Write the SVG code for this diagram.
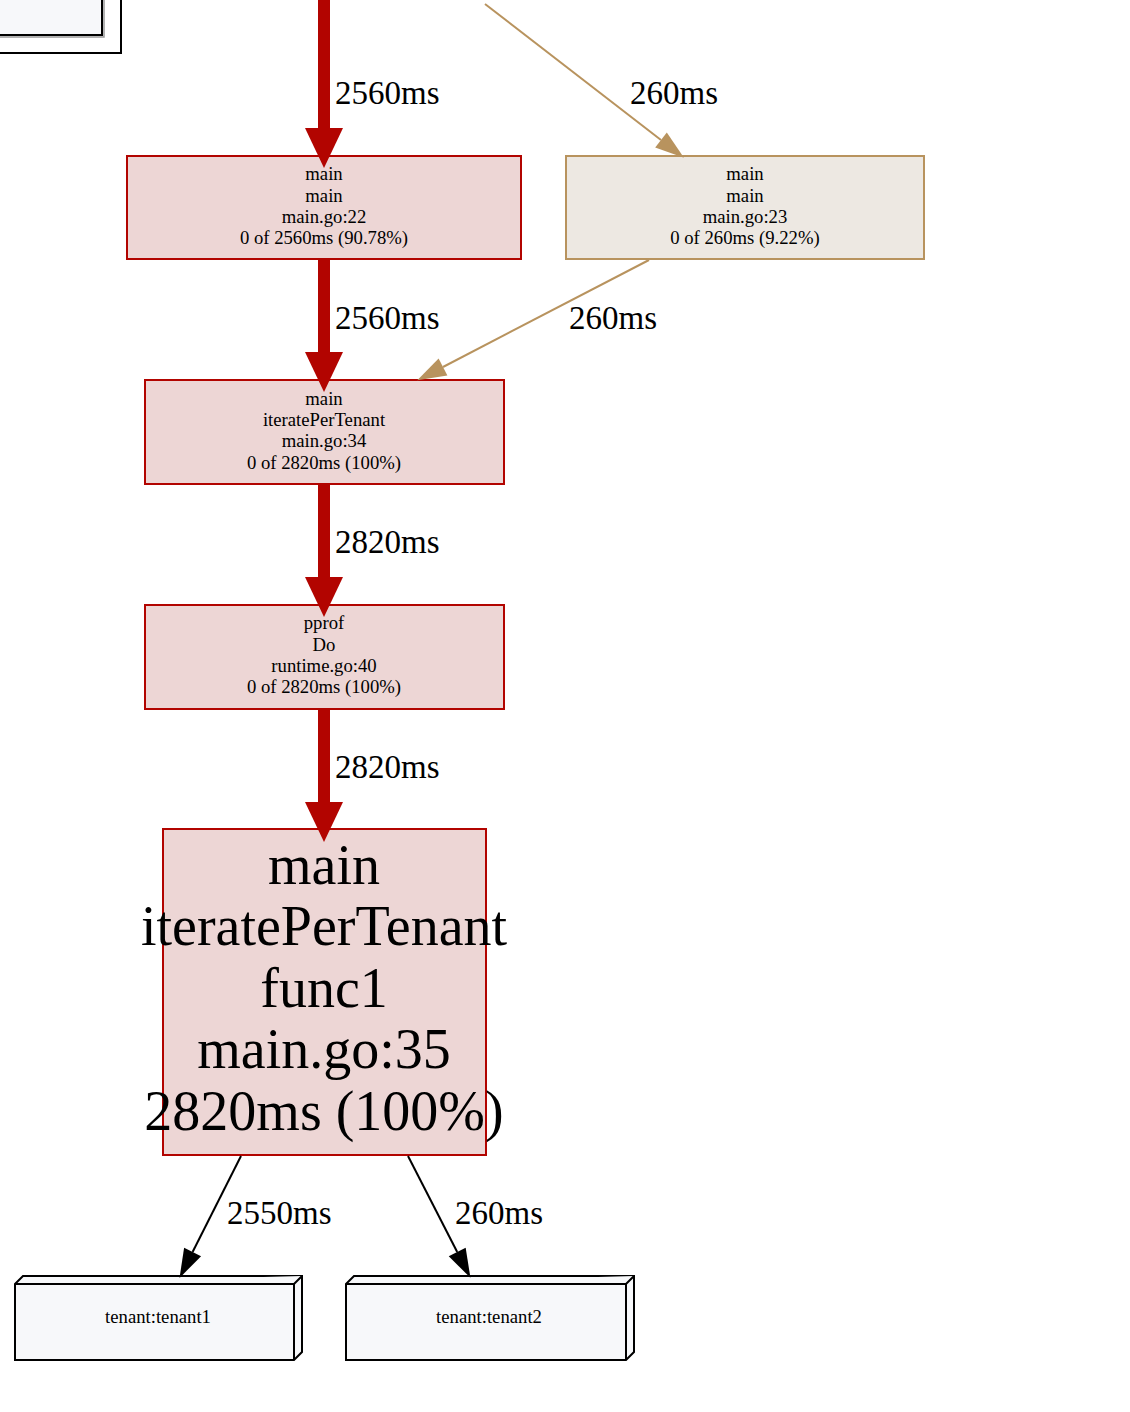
<svg xmlns="http://www.w3.org/2000/svg" width="1130" height="1412" viewBox="0 0 1130 1412">
<style>
text{font-family:"Liberation Serif","Times New Roman",serif;fill:#000;text-anchor:middle}
.s{font-size:18.7px}
.lbl{font-size:33px;text-anchor:start}
.big{font-size:56px}
.hot rect{fill:#edd6d5;stroke:#b20400;stroke-width:2}
.warm rect{fill:#ede8e2;stroke:#b8935e;stroke-width:2}
.b3d path{fill:#f7f8fa;stroke:#000;stroke-width:2;stroke-linejoin:miter}
.er{stroke:#b20400;stroke-width:12;fill:none}
.eb{stroke:#b8935e;stroke-width:2;fill:none}
.ek{stroke:#000;stroke-width:2;fill:none}
</style>
<defs>
<marker id="ar" markerUnits="userSpaceOnUse" markerWidth="42" markerHeight="42" refX="0" refY="20" viewBox="0 0 42 40" orient="auto" overflow="visible"><path d="M0,1 L40,20 L0,39 z" fill="#b20400"/></marker>
<marker id="ab" markerUnits="userSpaceOnUse" markerWidth="30" markerHeight="20" refX="0" refY="10" viewBox="0 0 30 20" orient="auto" overflow="visible"><path d="M0,0.5 L29,10 L0,19.5 z" fill="#b8935e"/></marker>
<marker id="ak" markerUnits="userSpaceOnUse" markerWidth="30" markerHeight="20" refX="0" refY="10" viewBox="0 0 30 20" orient="auto" overflow="visible"><path d="M0,0.5 L29,10 L0,19.5 z" fill="#000"/></marker>
</defs>
<rect width="1130" height="1412" fill="#fff"/>
<g id="legend">
<rect x="-10" y="-10" width="131" height="63" fill="#fff" stroke="#000" stroke-width="2"/>
<rect x="-10" y="-10" width="114" height="47" fill="none" stroke="#999" stroke-width="1.5"/>
<rect x="-10" y="-10" width="112" height="45" fill="#f7f8fa" stroke="#000" stroke-width="2"/>
</g>
<g id="n1" class="hot">
<rect x="127" y="156" width="394" height="103"/>
<text class="s" x="324" y="180">main</text>
<text class="s" x="324" y="202">main</text>
<text class="s" x="324" y="223">main.go:22</text>
<text class="s" x="324" y="244">0 of 2560ms (90.78%)</text>
</g>
<g id="n2" class="warm">
<rect x="566" y="156" width="358" height="103"/>
<text class="s" x="745" y="180">main</text>
<text class="s" x="745" y="202">main</text>
<text class="s" x="745" y="223">main.go:23</text>
<text class="s" x="745" y="244">0 of 260ms (9.22%)</text>
</g>
<g id="n3" class="hot">
<rect x="145" y="380" width="359" height="104"/>
<text class="s" x="324" y="405">main</text>
<text class="s" x="324" y="426">iteratePerTenant</text>
<text class="s" x="324" y="447">main.go:34</text>
<text class="s" x="324" y="469">0 of 2820ms (100%)</text>
</g>
<g id="n4" class="hot">
<rect x="145" y="605" width="359" height="104"/>
<text class="s" x="324" y="629">pprof</text>
<text class="s" x="324" y="651">Do</text>
<text class="s" x="324" y="672">runtime.go:40</text>
<text class="s" x="324" y="693">0 of 2820ms (100%)</text>
</g>
<g id="n5" class="hot">
<rect x="163" y="829" width="323" height="326"/>
<text class="big" x="324" y="884">main</text>
<text class="big" x="324" y="945">iteratePerTenant</text>
<text class="big" x="324" y="1007">func1</text>
<text class="big" x="324" y="1068">main.go:35</text>
<text class="big" x="324" y="1130">2820ms (100%)</text>
</g>
<g id="t1" class="b3d">
<path d="M15,1284 L23,1276 L302,1276 L302,1352 L294,1360 L15,1360 z"/>
<path d="M15,1284 L294,1284 L302,1276 M294,1284 L294,1360" fill="none"/>
<text class="s" x="158" y="1323">tenant:tenant1</text>
</g>
<g id="t2" class="b3d">
<path d="M346,1284 L354,1276 L634,1276 L634,1352 L626,1360 L346,1360 z"/>
<path d="M346,1284 L626,1284 L634,1276 M626,1284 L626,1360" fill="none"/>
<text class="s" x="489" y="1323">tenant:tenant2</text>
</g>
<g id="connectors">
<line class="er" x1="324" y1="0" x2="324" y2="128" marker-end="url(#ar)"/>
<text class="lbl" x="335" y="104">2560ms</text>
<line class="eb" x1="485" y1="4" x2="661" y2="140" marker-end="url(#ab)"/>
<text class="lbl" x="630" y="104">260ms</text>
<line class="er" x1="324" y1="259" x2="324" y2="352" marker-end="url(#ar)"/>
<text class="lbl" x="335" y="329">2560ms</text>
<line class="eb" x1="649" y1="260" x2="443" y2="367" marker-end="url(#ab)"/>
<text class="lbl" x="569" y="329">260ms</text>
<line class="er" x1="324" y1="484" x2="324" y2="577" marker-end="url(#ar)"/>
<text class="lbl" x="335" y="553">2820ms</text>
<line class="er" x1="324" y1="709" x2="324" y2="802" marker-end="url(#ar)"/>
<text class="lbl" x="335" y="778">2820ms</text>
<line class="ek" x1="241" y1="1156" x2="192.6" y2="1252" marker-end="url(#ak)"/>
<text class="lbl" x="227" y="1224">2550ms</text>
<line class="ek" x1="408" y1="1156" x2="457.2" y2="1252" marker-end="url(#ak)"/>
<text class="lbl" x="455" y="1224">260ms</text>
</g>
</svg>
